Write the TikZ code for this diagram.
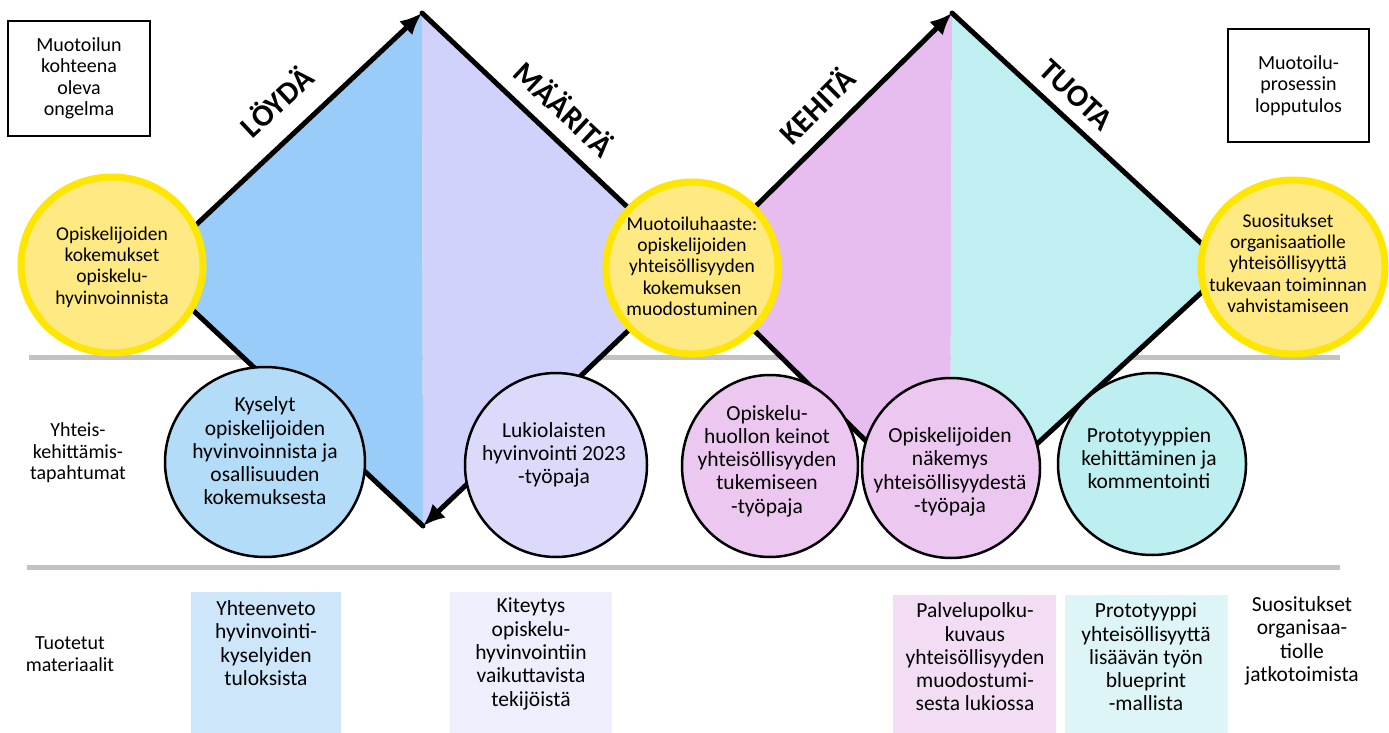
\documentclass[tikz,border=0pt]{standalone}
\usepackage{fontspec}
\setmainfont{Carlito}
\usetikzlibrary{arrows.meta,shapes.geometric}

\definecolor{goalfill}{HTML}{FFE982}
\definecolor{goalring}{HTML}{FFE600}
\definecolor{loydafill}{HTML}{99CCF8}
\definecolor{maaritafill}{HTML}{D0D2FC}
\definecolor{kehitafill}{HTML}{E6BDEE}
\definecolor{tuotafill}{HTML}{BFEFF0}
\definecolor{kyselyfill}{HTML}{B3DCF8}
\definecolor{lukiofill}{HTML}{DCDAFA}
\definecolor{huoltofill}{HTML}{ECC8F1}
\definecolor{protofill}{HTML}{BDEEF0}
\definecolor{matblue}{HTML}{CDE6FA}
\definecolor{matlavender}{HTML}{EEEEFD}
\definecolor{matpink}{HTML}{F2DDF5}
\definecolor{matcyan}{HTML}{DDF5F6}

\begin{document}
\begin{tikzpicture}[
		x=1pt,y=-1pt,
		>={Latex[length=22pt,width=19pt]},
		every node/.style={font=\fontsize{20}{21.5}\selectfont, align=center, inner sep=0pt},
		rimline/.style={line width=5pt, line cap=round},
		rowline/.style={line width=5pt, black!24},
		phase/.style={font=\fontsize{31}{31}\selectfont\bfseries},
		goal/.style={ellipse, draw=goalring, line width=7pt, fill=goalfill},
		goaltext/.style={font=\fontsize{19.5}{21.3}\selectfont},
		event/.style={ellipse, draw=black, line width=2.5pt},
		eventtext/.style={font=\fontsize{21.5}{23.3}\selectfont},
		mattext/.style={font=\fontsize{21.5}{23.3}\selectfont},
		sidebox/.style={draw, line width=1.5pt}
		]
		
		\fill[white] (0,0) rectangle (1389,733);
		\useasboundingbox (0,0) rectangle (1389,733);
		
		% =========================
		% Row dividers
		% =========================
		\draw[rowline] (29,357) -- (1340,357);
		\draw[rowline] (27,567) -- (1340,567);
		
		% =========================
		% Double diamond
		% =========================
		\coordinate (d1l) at (149,269);
		\coordinate (d1t) at (422,13);
		\coordinate (d1r) at (693,269);
		\coordinate (d1b) at (423,526);
		\coordinate (d2l) at (692,269);
		\coordinate (d2t) at (952,13);
		\coordinate (d2r) at (1228,268);
		\coordinate (d2b) at (950,524);
		
		\fill[loydafill] (d1l) -- (d1t) -- (d1b) -- cycle;
		\fill[maaritafill] (d1t) -- (d1r) -- (d1b) -- cycle;
		\fill[kehitafill] (d2l) -- (d2t) -- (d2b) -- cycle;
		\fill[tuotafill] (d2t) -- (d2r) -- (d2b) -- cycle;
		
		\draw[rimline,->] (d1l) -- (d1t);
		\draw[rimline] (d1t) -- (d1r);
		\draw[rimline,->] (d1r) -- (d1b);
		\draw[rimline] (d1b) -- (d1l);
		\draw[rimline,->] (d2l) -- (d2t);
		\draw[rimline] (d2t) -- (d2r);
		\draw[rimline] (d2r) -- (d2b);
		\draw[rimline] (d2b) -- (d2l);
		
		% phase titles
		\node[phase, rotate=43] (loyda) at (276,101) {LÖYDÄ};
		\node[phase, rotate=-43] (maarita) at (565,108) {MÄÄRITÄ};
		\node[phase, rotate=45] (kehita) at (816,105) {KEHITÄ};
		\node[phase, rotate=-43] (tuota) at (1076,95) {TUOTA};
		
		% =========================
		% Start, challenge and outcome
		% =========================
		\node[goal, minimum width=182pt, minimum height=176pt] (alku) at (112,265) {};
		\node[goaltext] (alkuteksti) at (112,267)
		{Opiskelijoiden\\kokemukset\\opiskelu-\\hyvinvoinnista};
		
		\node[goal, minimum width=172pt, minimum height=172pt] (haaste) at (692,268) {};
		\node[goaltext] (haasteteksti) at (692,266)
		{Muotoiluhaaste:\\opiskelijoiden\\yhteisöllisyyden\\kokemuksen\\muodostuminen};
		
		\node[goal, minimum width=184pt, minimum height=174pt] (tulos) at (1293,267) {};
		\node[goaltext] (tulosteksti) at (1288,263)
		{Suositukset\\organisaatiolle\\yhteisöllisyyttä\\tukevaan toiminnan\\vahvistamiseen};
		
		% =========================
		% Co-design events
		% =========================
		\node[event, fill=kyselyfill, minimum width=200pt, minimum height=190pt] (kyselyt) at (265,462) {};
		\node[eventtext] (kyselytteksti) at (265,451)
		{Kyselyt\\opiskelijoiden\\hyvinvoinnista ja\\osallisuuden\\kokemuksesta};
		
		\node[event, fill=lukiofill, minimum width=182pt, minimum height=184pt] (lukio) at (556,465) {};
		\node[eventtext] (lukioteksti) at (554,455)
		{Lukiolaisten\\hyvinvointi 2023\\-työpaja};
		
		\node[event, fill=huoltofill, minimum width=176pt, minimum height=182pt] (huolto) at (770,466) {};
		\node[eventtext] (huoltoteksti) at (767,461)
		{Opiskelu-\\huollon keinot\\yhteisöllisyyden\\tukemiseen\\-työpaja};
		
		\node[event, fill=huoltofill, minimum width=178pt, minimum height=180pt] (nakemys) at (951,468) {};
		\node[eventtext] (nakemysteksti) at (950,472)
		{Opiskelijoiden\\näkemys\\yhteisöllisyydestä\\-työpaja};
		
		\node[event, fill=protofill, minimum width=188pt, minimum height=182pt] (proto) at (1152,464) {};
		\node[eventtext] (prototeksti) at (1149,458)
		{Prototyyppien\\kehittäminen ja\\kommentointi};
		
		% =========================
		% Side labels and boxes
		% =========================
		\node[sidebox, minimum width=142pt, minimum height=115pt] (ongelma) at (79,78.5)
		{Muotoilun\\kohteena\\oleva\\ongelma};
		\node[sidebox, minimum width=141pt, minimum height=113pt] (lopputulos) at (1298.5,85.5)
		{Muotoilu-\\prosessin\\lopputulos};
		
		\node (tapahtumat) at (78,453) {Yhteis-\\kehittämis-\\tapahtumat};
		\node (materiaalit) at (70,654) {Tuotetut\\materiaalit};
		
		% =========================
		% Produced materials
		% =========================
		\fill[matblue] (191,592) rectangle (341,733);
		\node[mattext] (yhteenveto) at (266,643)
		{Yhteenveto\\hyvinvointi-\\kyselyiden\\tuloksista};
		
		\fill[matlavender] (450,592) rectangle (612,733);
		\node[mattext] (kiteytys) at (531,654)
		{Kiteytys\\opiskelu-\\hyvinvointiin\\vaikuttavista\\tekijöistä};
		
		\fill[matpink] (893,595) rectangle (1056,733);
		\node[mattext] (palvelupolku) at (975,657)
		{Palvelupolku-\\kuvaus\\yhteisöllisyyden\\muodostumi-\\sesta lukiossa};
		
		\fill[matcyan] (1065,595) rectangle (1228,733);
		\node[mattext] (prototyyppi) at (1146,657)
		{Prototyyppi\\yhteisöllisyyttä\\lisäävän työn\\blueprint\\-mallista};
		
		\node[mattext] (jatkotoimet) at (1302,641)
		{Suositukset\\organisaa-\\tiolle\\jatkotoimista};
	\end{tikzpicture}
\end{document}
